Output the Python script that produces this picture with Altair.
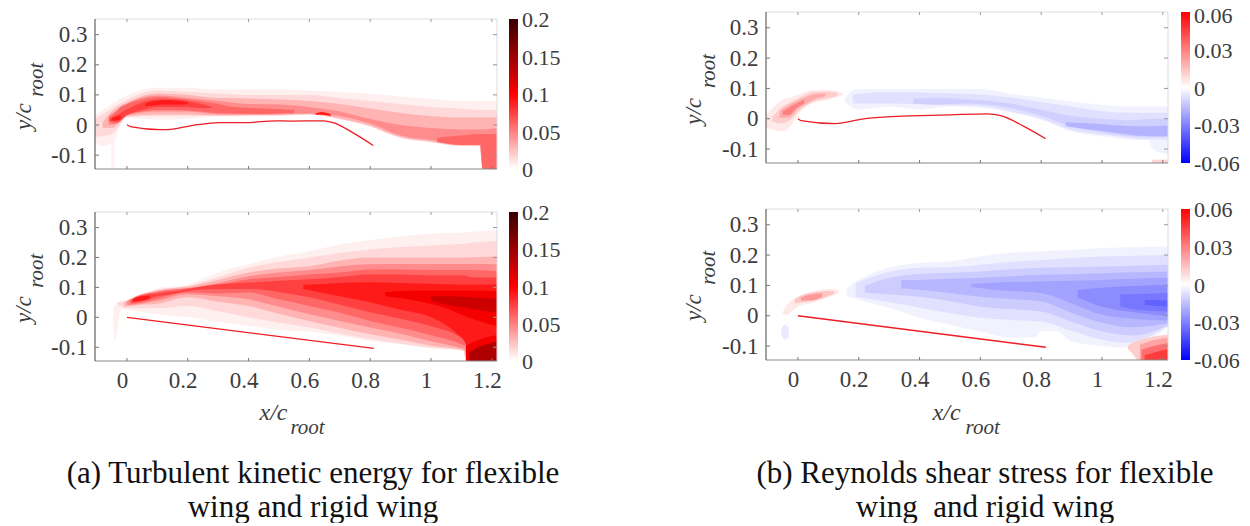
import altair as alt
import pandas as pd

X_DOMAIN = [-0.105, 1.217]
Y_DOMAIN = [-0.146, 0.352]
X_TICKS = [0, 0.2, 0.4, 0.6, 0.8, 1, 1.2]
Y_TICKS = [-0.1, 0, 0.1, 0.2, 0.3]
TKE_TICKS = [0, 0.05, 0.1, 0.15, 0.2]
RSS_TICKS = [-0.06, -0.03, 0, 0.03, 0.06]

# wing profiles (x, y)
WING_FLEX_A = [(0, 0.001), (0.015, -0.006), (0.109, -0.015), (0.135, -0.015), (0.218, -0.001), (0.306, 0.008),
               (0.39, 0.008), (0.49, 0.014), (0.536, 0.013), (0.646, 0.014), (0.678, 0.008), (0.744, -0.026), (0.81, -0.068)]
WING_FLEX_B = [(0, 0), (0.01, -0.006), (0.124, -0.016), (0.212, -0.001), (0.294, 0.006), (0.4, 0.01), (0.502, 0.013),
               (0.623, 0.016), (0.667, 0.01), (0.743, -0.025), (0.815, -0.066)]
WING_RIGID_A = [(0, 0), (0.812, -0.104)]
WING_RIGID_B = [(0, 0), (0.815, -0.104)]

# iso-level bands: (x, lower y, upper y)
TKE_FLEX_STREAK = [(-0.052, -0.146, -0.03), (-0.04, -0.146, -0.03)]
TKE_FLEX_006 = [(-0.105, -0.06, 0.034), (-0.08, -0.07, 0.05), (-0.05, -0.06, 0.07), (-0.032, -0.03, 0.08), (-0.028, 0.0, 0.085),
                (-0.01, 0.022, 0.092), (0, 0.024, 0.098), (0.1, 0.018, 0.124), (0.2, 0.021, 0.124), (0.3, 0.029, 0.118),
                (0.4, 0.029, 0.118), (0.5, 0.03, 0.118), (0.6, 0.034, 0.114), (0.7, 0.018, 0.11), (0.8, -0.005, 0.104),
                (0.9, -0.043, 0.095), (1.0, -0.057, 0.087), (1.1, -0.071, 0.079), (1.16, -0.072, 0.079), (1.168, -0.145, 0.079), (1.217, -0.146, 0.08)]
TKE_FLEX_015 = [(-0.105, -0.04, 0.02), (-0.05, -0.03, 0.055), (-0.03, -0.01, 0.068), (0, 0.026, 0.085), (0.1, 0.03, 0.115),
                (0.2, 0.03, 0.11), (0.3, 0.03, 0.105), (0.4, 0.031, 0.1), (0.5, 0.031, 0.1), (0.6, 0.036, 0.1), (0.7, 0.02, 0.09),
                (0.8, -0.005, 0.08), (0.9, -0.043, 0.07), (1.0, -0.057, 0.06), (1.1, -0.07, 0.055), (1.16, -0.07, 0.05), (1.17, -0.145, 0.05), (1.217, -0.146, 0.05)]
TKE_FLEX_030 = [(-0.08, -0.01, 0.01), (-0.05, -0.01, 0.045), (0, 0.03, 0.075), (0.1, 0.035, 0.105), (0.2, 0.035, 0.1), (0.3, 0.032, 0.09),
                (0.4, 0.033, 0.088), (0.5, 0.034, 0.085), (0.6, 0.036, 0.08), (0.7, 0.022, 0.07), (0.8, -0.002, 0.055), (0.9, -0.04, 0.04),
                (1.0, -0.055, 0.03), (1.1, -0.068, 0.025), (1.16, -0.068, 0.025), (1.17, -0.145, 0.025), (1.217, -0.146, 0.025)]
TKE_FLEX_045 = [(-0.06, 0.0, 0.03), (-0.03, 0.005, 0.05), (0, 0.032, 0.07), (0.1, 0.045, 0.098), (0.2, 0.045, 0.09), (0.3, 0.036, 0.08),
                (0.4, 0.035, 0.07), (0.5, 0.036, 0.068), (0.6, 0.038, 0.06), (0.7, 0.03, 0.045), (0.8, 0.005, 0.02), (0.9, -0.035, 0.0),
                (1.0, -0.05, -0.01), (1.1, -0.065, -0.015), (1.16, -0.065, -0.015), (1.17, -0.145, -0.015), (1.217, -0.146, -0.01)]
TKE_FLEX_060 = [(-0.06, 0.012, 0.024), (-0.04, 0.006, 0.04), (-0.02, 0.015, 0.06), (0, 0.034, 0.07), (0.05, 0.045, 0.085), (0.1, 0.05, 0.093),
                (0.15, 0.05, 0.09), (0.2, 0.048, 0.085), (0.3, 0.04, 0.07), (0.35, 0.038, 0.06), (0.45, 0.037, 0.055), (0.55, 0.04, 0.05)]
TKE_FLEX_060R = [(1.02, -0.056, -0.042), (1.1, -0.066, -0.035), (1.163, -0.066, -0.03), (1.17, -0.145, -0.03), (1.217, -0.146, -0.03)]
TKE_FLEX_075 = [(-0.055, 0.013, 0.022), (-0.03, 0.012, 0.035), (0, 0.033, 0.052), (0.05, 0.05, 0.075), (0.1, 0.06, 0.085), (0.15, 0.06, 0.085),
                (0.2, 0.06, 0.08), (0.25, 0.056, 0.068), (0.28, 0.058, 0.06)]
TKE_FLEX_090 = [(0.06, 0.062, 0.07), (0.09, 0.066, 0.08), (0.13, 0.068, 0.083), (0.17, 0.068, 0.08), (0.2, 0.07, 0.076)]
TKE_FLEX_090L = [(-0.05, 0.015, 0.022), (-0.035, 0.015, 0.028), (-0.02, 0.02, 0.032)]
TKE_FLEX_090M = [(0.62, 0.034, 0.038), (0.64, 0.034, 0.043), (0.67, 0.03, 0.036)]

TKE_RIGID_006 = [(-0.045, -0.02, 0.03), (-0.04, -0.083, 0.043), (-0.03, -0.03, 0.05), (-0.02, 0.027, 0.055), (0.01, 0.023, 0.06), (0.1, 0.01, 0.097),
                 (0.2, 0.0, 0.11), (0.3, -0.016, 0.15), (0.4, -0.029, 0.177), (0.5, -0.042, 0.203), (0.6, -0.047, 0.221), (0.7, -0.062, 0.243),
                 (0.8, -0.079, 0.258), (0.9, -0.09, 0.271), (1.0, -0.104, 0.28), (1.1, -0.112, 0.283), (1.107, -0.113, 0.283), (1.115, -0.144, 0.284), (1.217, -0.146, 0.29)]
TKE_RIGID_015 = [(-0.03, 0.04, 0.05), (0.01, 0.03, 0.056), (0.1, 0.03, 0.093), (0.2, 0.038, 0.105), (0.3, 0.02, 0.135), (0.4, 0.0, 0.166), (0.5, -0.018, 0.185),
                 (0.6, -0.034, 0.2), (0.7, -0.055, 0.215), (0.8, -0.073, 0.227), (0.9, -0.088, 0.235), (1.0, -0.102, 0.24), (1.1, -0.11, 0.245), (1.107, -0.112, 0.245), (1.115, -0.144, 0.247), (1.217, -0.146, 0.255)]
TKE_RIGID_030 = [(-0.01, 0.035, 0.05), (0.03, 0.04, 0.07), (0.1, 0.045, 0.09), (0.2, 0.067, 0.103), (0.3, 0.052, 0.125), (0.4, 0.038, 0.15), (0.5, 0.012, 0.163),
                 (0.6, -0.012, 0.171), (0.7, -0.035, 0.19), (0.8, -0.057, 0.2), (0.9, -0.075, 0.2), (1.0, -0.095, 0.2), (1.1, -0.108, 0.2), (1.108, -0.11, 0.2), (1.116, -0.144, 0.2), (1.217, -0.146, 0.204)]
TKE_RIGID_045 = [(0.0, 0.04, 0.053), (0.03, 0.043, 0.07), (0.1, 0.055, 0.087), (0.2, 0.077, 0.097), (0.3, 0.07, 0.115), (0.4, 0.06, 0.137), (0.5, 0.035, 0.15),
                 (0.6, 0.01, 0.158), (0.7, -0.012, 0.17), (0.8, -0.034, 0.177), (0.9, -0.055, 0.178), (1.0, -0.08, 0.178), (1.1, -0.103, 0.178), (1.11, -0.106, 0.178), (1.118, -0.144, 0.178), (1.217, -0.146, 0.177)]
TKE_RIGID_060 = [(0.01, 0.045, 0.056), (0.04, 0.048, 0.07), (0.1, 0.062, 0.085), (0.2, 0.084, 0.097), (0.3, 0.08, 0.108), (0.4, 0.083, 0.127), (0.5, 0.06, 0.135),
                 (0.6, 0.038, 0.143), (0.7, 0.015, 0.15), (0.8, -0.012, 0.16), (0.9, -0.035, 0.16), (1.0, -0.06, 0.158), (1.1, -0.09, 0.158), (1.12, -0.1, 0.158), (1.125, -0.144, 0.158), (1.217, -0.146, 0.154)]
TKE_RIGID_075 = [(0.015, 0.05, 0.058), (0.04, 0.052, 0.07), (0.1, 0.07, 0.08), (0.16, 0.08, 0.087), (0.25, 0.094, 0.104), (0.4, 0.095, 0.116), (0.5, 0.085, 0.122),
                 (0.6, 0.067, 0.127), (0.7, 0.042, 0.135), (0.8, 0.017, 0.143), (0.9, -0.005, 0.143), (1.0, -0.03, 0.14), (1.1, -0.07, 0.14), (1.12, -0.09, 0.137), (1.125, -0.146, 0.135), (1.217, -0.146, 0.133)]
TKE_RIGID_090 = [(0.02, 0.052, 0.06), (0.045, 0.055, 0.07), (0.075, 0.062, 0.072)]
TKE_RIGID_090B = [(0.58, 0.095, 0.108), (0.7, 0.07, 0.115), (0.8, 0.05, 0.117), (0.9, 0.025, 0.115), (1.0, 0.0, 0.112), (1.08, -0.05, 0.11), (1.115, -0.09, 0.11), (1.12, -0.146, 0.11), (1.217, -0.146, 0.11)]
TKE_RIGID_105 = [(0.85, 0.07, 0.085), (0.95, 0.055, 0.09), (1.05, 0.03, 0.09), (1.12, 0.0, 0.09), (1.217, -0.03, 0.088)]
TKE_RIGID_105B = [(1.115, -0.146, -0.095), (1.14, -0.146, -0.082), (1.17, -0.146, -0.07), (1.217, -0.146, -0.06)]
TKE_RIGID_125 = [(1.0, 0.055, 0.07), (1.06, 0.04, 0.07), (1.12, 0.03, 0.068), (1.17, 0.022, 0.065), (1.217, 0.017, 0.062)]
TKE_RIGID_125B = [(1.125, -0.146, -0.118), (1.16, -0.146, -0.098), (1.19, -0.146, -0.088), (1.217, -0.146, -0.08)]

RSS_FLEX_RED_005 = [(-0.105, -0.03, 0.013), (-0.05, -0.042, 0.063), (-0.02, -0.02, 0.072), (0, 0.013, 0.079), (0.05, 0.052, 0.095), (0.1, 0.062, 0.095), (0.148, 0.078, 0.084)]
RSS_FLEX_RED_012 = [(-0.085, -0.01, 0.005), (-0.05, -0.015, 0.04), (-0.02, 0.0, 0.058), (0, 0.022, 0.067), (0.05, 0.056, 0.088), (0.1, 0.068, 0.09), (0.13, 0.076, 0.086)]
RSS_FLEX_RED_020 = [(-0.06, 0.002, 0.025), (-0.03, 0.005, 0.045), (0, 0.032, 0.06), (0.05, 0.062, 0.08), (0.09, 0.074, 0.084)]
RSS_FLEX_RED_030 = [(-0.05, 0.012, 0.025), (-0.03, 0.012, 0.036), (-0.005, 0.035, 0.05), (0.02, 0.05, 0.062)]
RSS_FLEX_BLUE_003 = [(0.155, 0.055, 0.07), (0.17, 0.042, 0.085), (0.2, 0.03, 0.098), (0.3, 0.04, 0.098), (0.4, 0.03, 0.098), (0.5, 0.04, 0.098), (0.6, 0.036, 0.098),
                     (0.7, 0.02, 0.082), (0.8, -0.003, 0.069), (0.9, -0.042, 0.057), (1.0, -0.058, 0.046), (1.1, -0.069, 0.04), (1.15, -0.07, 0.04), (1.17, -0.102, 0.04), (1.217, -0.118, 0.04)]
RSS_FLEX_BLUE_007 = [(0.18, 0.05, 0.08), (0.3, 0.05, 0.088), (0.45, 0.045, 0.085), (0.6, 0.042, 0.08), (0.7, 0.024, 0.07), (0.8, 0.0, 0.055), (0.9, -0.038, 0.04),
                     (1.0, -0.052, 0.025), (1.1, -0.064, 0.02), (1.16, -0.068, 0.02), (1.217, -0.07, 0.02)]
RSS_FLEX_BLUE_011 = [(0.38, 0.05, 0.066), (0.45, 0.046, 0.068), (0.55, 0.05, 0.064), (0.7, 0.035, 0.05), (0.8, 0.01, 0.03), (0.9, -0.025, 0.01), (1.0, -0.045, 0.0),
                     (1.1, -0.058, -0.005), (1.16, -0.06, 0.0), (1.217, -0.06, 0.0)]
RSS_FLEX_BLUE_018 = [(0.88, -0.025, -0.012), (0.95, -0.035, -0.015), (1.05, -0.047, -0.022), (1.12, -0.056, -0.025), (1.217, -0.058, -0.022)]
RSS_FLEX_RED_STRIP = [(1.165, -0.146, -0.135), (1.217, -0.146, -0.135)]

RSS_RIGID_RED_005 = [(-0.05, 0.005, 0.012), (-0.04, 0.003, 0.03), (0, 0.03, 0.063), (0.05, 0.043, 0.08), (0.1, 0.06, 0.088), (0.135, 0.075, 0.085)]
RSS_RIGID_RED_014 = [(-0.01, 0.04, 0.055), (0.02, 0.045, 0.07), (0.06, 0.052, 0.078), (0.1, 0.065, 0.082), (0.12, 0.073, 0.08)]
RSS_RIGID_RED_024 = [(0.01, 0.05, 0.06), (0.04, 0.05, 0.07), (0.08, 0.062, 0.074)]
RSS_RIGID_BLUE_BLOB = [(-0.055, -0.06, -0.045), (-0.045, -0.078, -0.03), (-0.03, -0.07, -0.038)]
RSS_RIGID_RED_R012 = [(1.085, -0.11, -0.098), (1.1, -0.125, -0.089), (1.12, -0.146, -0.082), (1.15, -0.146, -0.073), (1.217, -0.146, -0.063)]
RSS_RIGID_RED_R022 = [(1.125, -0.146, -0.095), (1.16, -0.146, -0.083), (1.217, -0.146, -0.073)]
RSS_RIGID_RED_R034 = [(1.13, -0.146, -0.112), (1.17, -0.146, -0.1), (1.217, -0.146, -0.09)]
RSS_RIGID_RED_R046 = [(1.14, -0.146, -0.13), (1.19, -0.146, -0.116), (1.217, -0.146, -0.11)]
RSS_RIGID_BLUE_003 = [(0.16, 0.065, 0.09), (0.2, 0.053, 0.118), (0.3, 0.026, 0.158), (0.4, -0.007, 0.174), (0.5, -0.03, 0.179), (0.6, -0.052, 0.195), (0.7, -0.072, 0.207),
                      (0.78, -0.07, 0.212), (0.8, -0.05, 0.212), (0.85, -0.05, 0.215), (0.9, -0.085, 0.217), (1.0, -0.1, 0.223), (1.08, -0.105, 0.226), (1.217, -0.036, 0.228)]
RSS_RIGID_BLUE_007 = [(0.19, 0.063, 0.108), (0.3, 0.045, 0.145), (0.4, 0.026, 0.158), (0.5, 0.008, 0.16), (0.6, -0.007, 0.168), (0.7, -0.014, 0.178), (0.8, -0.019, 0.184),
                      (0.9, -0.05, 0.19), (1.0, -0.079, 0.195), (1.08, -0.09, 0.197), (1.217, -0.034, 0.2)]
RSS_RIGID_BLUE_012 = [(0.22, 0.077, 0.099), (0.3, 0.07, 0.125), (0.4, 0.063, 0.138), (0.5, 0.048, 0.142), (0.6, 0.03, 0.146), (0.7, 0.022, 0.153), (0.8, 0.014, 0.158),
                      (0.9, -0.02, 0.16), (1.0, -0.052, 0.162), (1.1, -0.065, 0.165), (1.217, -0.032, 0.168)]
RSS_RIGID_BLUE_017 = [(0.34, 0.09, 0.118), (0.4, 0.086, 0.118), (0.5, 0.075, 0.122), (0.6, 0.063, 0.125), (0.7, 0.055, 0.13), (0.8, 0.047, 0.135), (0.9, 0.01, 0.137),
                      (1.0, -0.023, 0.14), (1.1, -0.038, 0.143), (1.217, -0.026, 0.146)]
RSS_RIGID_BLUE_022 = [(0.57, 0.095, 0.105), (0.65, 0.085, 0.11), (0.8, 0.075, 0.113), (0.9, 0.04, 0.115), (1.0, 0.003, 0.118), (1.1, -0.01, 0.122), (1.217, -0.016, 0.125)]
RSS_RIGID_BLUE_027 = [(0.92, 0.06, 0.085), (1.0, 0.03, 0.092), (1.1, 0.012, 0.098), (1.217, -0.002, 0.102)]
RSS_RIGID_BLUE_032 = [(1.06, 0.03, 0.07), (1.13, 0.018, 0.072), (1.217, 0.014, 0.075)]
RSS_RIGID_BLUE_037 = [(1.14, 0.035, 0.052), (1.18, 0.032, 0.052), (1.217, 0.03, 0.05)]


def rows(bands):
    out = []
    for i, (level, pts) in enumerate(bands):
        for x, lo, hi in pts:
            out.append({"x": x, "lo": lo, "hi": hi, "level": level, "band": f"b{i:02d}"})
    return pd.DataFrame(out)


TICK_FONT = "Liberation Serif"
TXT = "#3c3c3c"


def text_layer(items):
    layers = []
    for s, x, y, size, style, angle, col, font in items:
        layers.append(alt.Chart(pd.DataFrame({"t": [s]})).mark_text(
            font=font, fontSize=size, fontStyle=style, angle=angle, color=col,
            align="center", baseline="alphabetic"
        ).encode(text="t:N", x=alt.value(x), y=alt.value(y)))
    return layers


def bar_labels(lticks, stops, legend_x, top, h, first_shift):
    lo, hi = stops[0], stops[-1]
    layers = []
    for v in lticks:
        py = top + (h - top) * (hi - v) / (hi - lo) + 1
        if v == hi:
            py += first_shift
        layers.append(alt.Chart(pd.DataFrame({"t": [str(v)]})).mark_text(
            font=TICK_FONT, fontSize=22, color=TXT, align="left", baseline="middle"
        ).encode(text="t:N", x=alt.value(legend_x + 13), y=alt.value(py)))
    return layers


def panel(bands, wing, h, top, stops, colors, lticks, legend_x, labels, texts, first_shift=0):
    w = 402
    xs = alt.Scale(domain=X_DOMAIN, nice=False, zero=False)
    ys = alt.Scale(domain=Y_DOMAIN, range=[h, top], nice=False, zero=False)
    xax = alt.Axis(values=X_TICKS, title=None, domain=False, ticks=False, grid=False, labelFont=TICK_FONT,
                   labelFontSize=23, labelColor=TXT, labelPadding=8, labelOffset=-5, labelOverlap=False,
                   labelExpr="'' + datum.value", labelFlush=False) if labels else None
    yax = alt.Axis(values=Y_TICKS, title=None, domain=False, ticks=False, grid=False, labelFont=TICK_FONT,
                   labelFontSize=23, labelColor=TXT, labelPadding=8, labelExpr="'' + datum.value", labelOverlap=False, labelFlush=False)
    heat = alt.Chart(rows(bands)).mark_area(interpolate="monotone", clip=True).encode(
        x=alt.X("x:Q", scale=xs, axis=xax),
        y=alt.Y("lo:Q", scale=ys, axis=yax),
        y2="hi:Q",
        detail="band:N",
        color=alt.Color("level:Q", scale=alt.Scale(domain=stops, range=colors, interpolate="rgb"), legend=alt.Legend(
            orient="none", legendX=legend_x, legendY=top, title=None, direction="vertical", gradientLength=h - top,
            gradientThickness=9, gradientStrokeWidth=0, values=[])),
    )
    line = alt.Chart(pd.DataFrame(wing, columns=["x", "y"])).mark_line(color="#ee1c25", strokeWidth=1.3, interpolate="monotone").encode(
        x=alt.X("x:Q", scale=xs, axis=xax), y=alt.Y("y:Q", scale=ys, axis=yax))
    one = pd.DataFrame({"a": [0]})
    frame = [
        alt.Chart(one).mark_rule(color="#dcdcdc", strokeWidth=1).encode(x=alt.datum(X_DOMAIN[0], scale=xs, axis=xax), x2=alt.datum(X_DOMAIN[1]), y=alt.datum(Y_DOMAIN[1], scale=ys, axis=yax)),
        alt.Chart(one).mark_rule(color="#dcdcdc", strokeWidth=1).encode(x=alt.datum(X_DOMAIN[1], scale=xs, axis=xax), y=alt.datum(Y_DOMAIN[0], scale=ys, axis=yax), y2=alt.datum(Y_DOMAIN[1])),
        alt.Chart(one).mark_rule(color="#888888", strokeWidth=1).encode(x=alt.datum(X_DOMAIN[0], scale=xs, axis=xax), x2=alt.datum(X_DOMAIN[1]), y=alt.datum(Y_DOMAIN[0], scale=ys, axis=yax)),
        alt.Chart(one).mark_rule(color="#444444", strokeWidth=1).encode(x=alt.datum(X_DOMAIN[0], scale=xs, axis=xax), y=alt.datum(Y_DOMAIN[0], scale=ys, axis=yax), y2=alt.datum(Y_DOMAIN[1])),
    ]
    xt = pd.DataFrame({"v": X_TICKS})
    yt = pd.DataFrame({"v": Y_TICKS})
    ticks = [
        alt.Chart(xt).mark_rule(color="#777777").encode(x=alt.X("v:Q", scale=xs, axis=xax), y=alt.value(h), y2=alt.value(h - 3)),
        alt.Chart(xt).mark_rule(color="#999999").encode(x=alt.X("v:Q", scale=xs, axis=xax), y=alt.value(top), y2=alt.value(top + 3)),
        alt.Chart(yt).mark_rule(color="#777777").encode(y=alt.Y("v:Q", scale=ys, axis=yax), x=alt.value(0), x2=alt.value(4)),
        alt.Chart(yt).mark_rule(color="#999999").encode(y=alt.Y("v:Q", scale=ys, axis=yax), x=alt.value(w), x2=alt.value(w - 4)),
    ]
    return alt.layer(heat, line, *frame, *ticks, *text_layer(texts),
                     *bar_labels(lticks, stops, legend_x, top, h, first_shift)).properties(width=w, height=h)


RED = ["#ffffff", "#ff0000", "#380000"]
RB = ["#0000ff", "#ffffff", "#ff0000"]
TKE_STOPS = [0, 0.1, 0.2]
RSS_STOPS = [-0.06, 0, 0.06]
IT = "italic"
CAP = "Liberation Serif"
INK = "#111111"

p1 = panel([(0.005, TKE_FLEX_STREAK), (0.006, TKE_FLEX_006), (0.015, TKE_FLEX_015), (0.03, TKE_FLEX_030), (0.045, TKE_FLEX_045),
            (0.06, TKE_FLEX_060), (0.06, TKE_FLEX_060R), (0.075, TKE_FLEX_075), (0.09, TKE_FLEX_090), (0.09, TKE_FLEX_090L), (0.09, TKE_FLEX_090M)],
           WING_FLEX_A, 157, 7, TKE_STOPS, RED, TKE_TICKS, 414, False,
           [("y/c", -64, 104.7, 23, IT, 270, TXT, TICK_FONT), ("root", -52, 67.7, 21, IT, 270, TXT, TICK_FONT)])
p2 = panel([(0.006, TKE_RIGID_006), (0.015, TKE_RIGID_015), (0.03, TKE_RIGID_030), (0.045, TKE_RIGID_045), (0.06, TKE_RIGID_060),
            (0.075, TKE_RIGID_075), (0.09, TKE_RIGID_090), (0.09, TKE_RIGID_090B), (0.105, TKE_RIGID_105), (0.105, TKE_RIGID_105B),
            (0.125, TKE_RIGID_125), (0.14, TKE_RIGID_125B)],
           WING_RIGID_A, 149, 0, TKE_STOPS, RED, TKE_TICKS, 414, True,
           [("y/c", -64, 97.7, 23, IT, 270, TXT, TICK_FONT), ("root", -52, 58.7, 21, IT, 270, TXT, TICK_FONT),
            ("x/c", 178.5, 207.7, 24, IT, 0, TXT, TICK_FONT), ("root", 212.5, 221.7, 21, IT, 0, TXT, TICK_FONT),
            ("(a) Turbulent kinetic energy for flexible", 218, 271, 31, "normal", 0, INK, CAP),
            ("wing and rigid wing", 218, 305, 31, "normal", 0, INK, CAP)])
p3 = panel([(0.005, RSS_FLEX_RED_005), (0.012, RSS_FLEX_RED_012), (0.02, RSS_FLEX_RED_020), (0.03, RSS_FLEX_RED_030),
            (-0.003, RSS_FLEX_BLUE_003), (-0.007, RSS_FLEX_BLUE_007), (-0.011, RSS_FLEX_BLUE_011), (-0.018, RSS_FLEX_BLUE_018),
            (0.01, RSS_FLEX_RED_STRIP)],
           WING_FLEX_B, 151, 0, RSS_STOPS, RB, RSS_TICKS, 415, False,
           [("y/c", -64.7, 99.4, 23, IT, 270, TXT, TICK_FONT), ("root", -50.7, 59, 21, IT, 270, TXT, TICK_FONT)], first_shift=3)
p4 = panel([(0.005, RSS_RIGID_RED_005), (0.014, RSS_RIGID_RED_014), (0.024, RSS_RIGID_RED_024), (-0.005, RSS_RIGID_BLUE_BLOB),
            (-0.003, RSS_RIGID_BLUE_003), (-0.007, RSS_RIGID_BLUE_007), (-0.012, RSS_RIGID_BLUE_012), (-0.017, RSS_RIGID_BLUE_017),
            (-0.022, RSS_RIGID_BLUE_022), (-0.027, RSS_RIGID_BLUE_027), (-0.032, RSS_RIGID_BLUE_032), (-0.037, RSS_RIGID_BLUE_037),
            (0.012, RSS_RIGID_RED_R012), (0.022, RSS_RIGID_RED_R022), (0.034, RSS_RIGID_RED_R034), (0.046, RSS_RIGID_RED_R046)],
           WING_RIGID_B, 151, 0, RSS_STOPS, RB, RSS_TICKS, 415, True,
           [("y/c", -64.7, 98.7, 23, IT, 270, TXT, TICK_FONT), ("root", -50.7, 58.7, 21, IT, 270, TXT, TICK_FONT),
            ("x/c", 180.6, 210.7, 24, IT, 0, TXT, TICK_FONT), ("root", 216.6, 224.7, 21, IT, 0, TXT, TICK_FONT),
            ("(b) Reynolds shear stress for flexible", 219, 274, 31, "normal", 0, INK, CAP),
            ("wing\u00a0 and rigid wing", 219, 308, 31, "normal", 0, INK, CAP)])

left = alt.vconcat(p1, p2, spacing=43, bounds="flush").resolve_scale(color="independent", x="independent", y="independent")
right = alt.vconcat(p3, p4, spacing=46, bounds="flush").resolve_scale(color="independent", x="independent", y="independent")
chart = alt.hconcat(left, right, spacing=671, bounds="flush").resolve_scale(color="independent").configure_view(stroke=None).properties(
    padding={"left": 5, "top": -3, "right": 0, "bottom": 0}, background="white")

chart.save("out.html", embed_options={"renderer": "svg", "actions": False})
